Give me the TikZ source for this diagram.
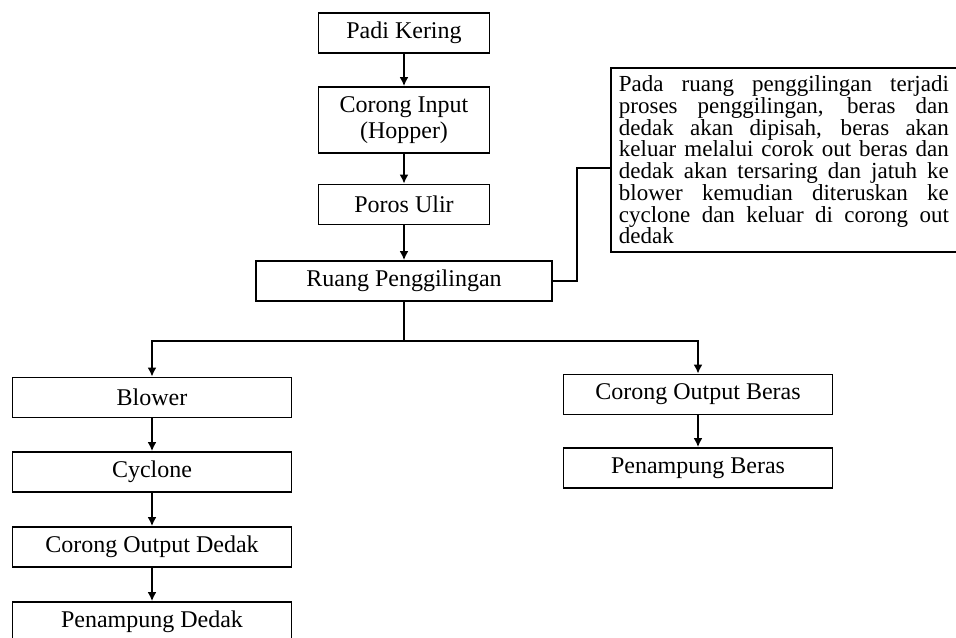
\documentclass[tikz,border=0pt]{standalone}
\usepackage{fontspec}
\setmainfont{Liberation Serif}
\usetikzlibrary{arrows.meta}
\newcommand{\noteline}[1]{\makebox[165pt][s]{\spaceskip=0pt\xspaceskip=0pt #1}\\}

\begin{document}
\begin{tikzpicture}[x=0.5pt,y=-0.5pt,line width=0.9pt,
    box/.style={draw,rectangle,minimum height=20pt,inner sep=2pt,align=center,font=\fontsize{12}{13}\selectfont},
    flow/.style={-{Latex[length=4.5pt,width=4.5pt]}}]
        \useasboundingbox (0,0) rectangle (956,637);
        \clip (0,0) rectangle (956,637);
        % main chain
        \node[box,minimum width=85.5pt] (padi) at (404,33) {Padi Kering};
        \node[box,minimum width=85.5pt,minimum height=33pt] (hopper) at (404,120) {Corong Input\\(Hopper)};
        \node[box,minimum width=85.5pt] (poros) at (404,204.5) {Poros Ulir};
        \node[box,minimum width=148pt] (ruang) at (404,281) {Ruang Penggilingan};
        % note
        \node[draw,anchor=north west,text width=165pt,inner xsep=4pt,inner ysep=4pt,align=left,
              font=\fontsize{11.5}{10.85}\selectfont] (note) at (610,67) {\noindent
              \noteline{Pada ruang penggilingan terjadi}
              \noteline{proses penggilingan, beras dan}
              \noteline{dedak akan dipisah, beras akan}
              \noteline{keluar melalui corok out beras dan}
              \noteline{dedak akan tersaring dan jatuh ke}
              \noteline{blower kemudian diteruskan ke}
              \noteline{cyclone dan keluar di corong out}
              dedak};
        % dedak branch
        \node[box,minimum width=139.5pt] (blower) at (152,397.5) {Blower};
        \node[box,minimum width=139.5pt] (cyclone) at (152,472) {Cyclone};
        \node[box,minimum width=139.5pt] (dedakout) at (152,547) {Corong Output Dedak};
        \node[box,minimum width=139.5pt] (dedakbin) at (152,622) {Penampung Dedak};
        % beras branch
        \node[box,minimum width=134.5pt] (berasout) at (698,394.5) {Corong Output Beras};
        \node[box,minimum width=134.5pt] (berasbin) at (698,468) {Penampung Beras};
        % connectors
        \draw[flow] (padi) -- (hopper);
        \draw[flow] (hopper) -- (poros);
        \draw[flow] (poros) -- (ruang);
        \draw (ruang.east) -- ++(24,0) |- ([yshift=-4pt]note.west);
        \coordinate (split) at (404,341);
        \draw (ruang.south) -- (split);
        \draw[flow] (split) -| (blower.north);
        \draw[flow] (split) -| (berasout.north);
        \draw[flow] (blower) -- (cyclone);
        \draw[flow] (cyclone) -- (dedakout);
        \draw[flow] (dedakout) -- (dedakbin);
        \draw[flow] (berasout) -- (berasbin);
\end{tikzpicture}
\end{document}
